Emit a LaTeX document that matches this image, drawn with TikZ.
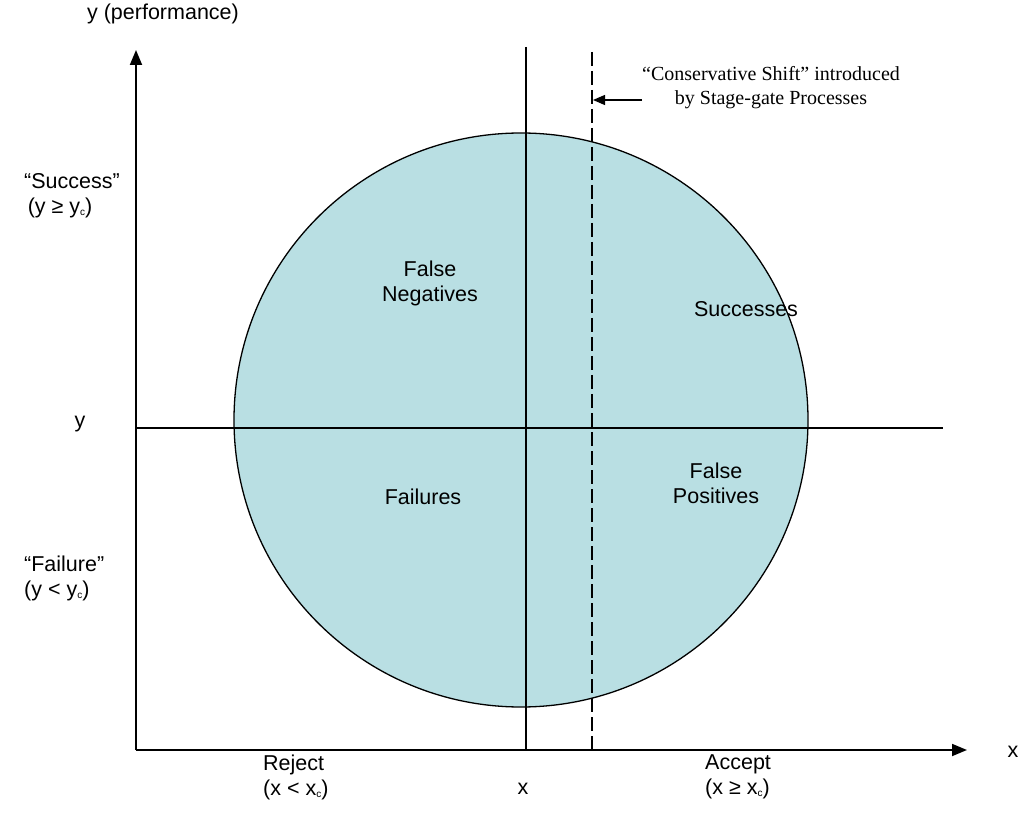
\documentclass[tikz,border=0pt]{standalone}
\usepackage{fontspec}
\setmainfont{Liberation Sans}
\newfontfamily\serifont{Liberation Serif}
\usetikzlibrary{arrows.meta}
\definecolor{fillblue}{HTML}{B9DFE3}
\newcommand{\subc}{\raisebox{-0.1em}{\fontsize{10}{10}\selectfont c}}
\begin{document}
\begin{tikzpicture}[x=1pt,y=-1pt,
  lbl/.style={font=\fontsize{21.5}{25}\selectfont, inner sep=0pt, align=center},
  lbll/.style={font=\fontsize{21.5}{25}\selectfont, inner sep=0pt, align=left, anchor=west},
  axis/.style={line width=1.8pt, -{Triangle[length=15pt,width=12pt]}},
  divider/.style={line width=1.3pt},
  shiftline/.style={line width=1.3pt, dash pattern=on 14pt off 5pt}]
\useasboundingbox (0,0) rectangle (1026,834);
% circle
\node[circle, draw, line width=1.3pt, fill=fillblue, minimum size=574pt, inner sep=0pt] (circ) at (521,420) {};
% coordinates
\coordinate (O) at (136,750);
\coordinate (ytop) at (136,50);
\coordinate (xend) at (967,750);
\coordinate (hl) at (136,428);
\coordinate (hr) at (943,428);
\coordinate (vt) at (526,47);
\coordinate (vb) at (526,750);
\coordinate (dt) at (592,52);
\coordinate (db) at (592,750);
\coordinate (as) at (642,100);
\coordinate (ae) at (593,100);
% lines
\draw[divider] (hl) -- (hr);
\draw[divider] (vt) -- (vb);
\draw[shiftline] (dt) -- (db);
\draw[axis] (O) -- (ytop);
\draw[axis] (O) -- (xend);
\draw[line width=1.3pt, -{Triangle[length=12pt,width=10pt]}] (as) -- (ae);
% labels
\node[lbl] (ylab) at (163,14) {y (performance)};
\node[lbll] (succ) at (24,196) {“Success”\\\,(y ≥ y\subc)};
\node[lbl] (yc) at (80,424) {y};
\node[lbll] (fail) at (24,578) {“Failure”\\(y < y\subc)};
\node[lbl] (fn) at (430,283) {False\\Negatives};
\node[lbl] (ss) at (746,309) {Successes};
\node[lbl] (fp) at (716,483) {False\\Positives};
\node[lbl] (fl) at (423,497) {Failures};
\node[lbll] (rej) at (263,777) {Reject\\(x < x\subc)};
\node[lbl] (xc) at (523,789) {x};
\node[lbll] (acc) at (705,777) {Accept\\(x ≥ x\subc)};
\node[lbl] (xlab) at (1013,752) {x};
\node[inner sep=0pt, align=center, font=\serifont\fontsize{20}{24}\selectfont] (cs) at (771,88) {“Conservative Shift” introduced\\by Stage-gate Processes};
\end{tikzpicture}
\end{document}
